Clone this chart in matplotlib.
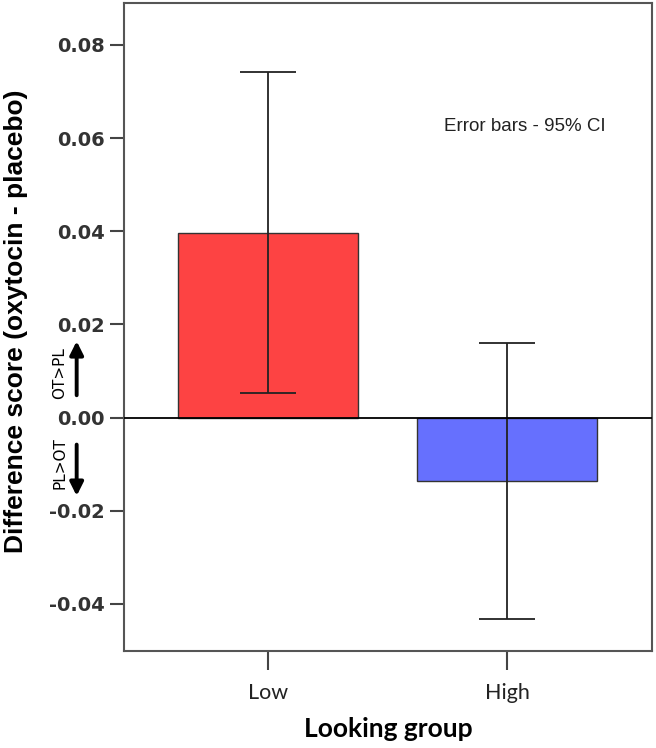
import matplotlib
matplotlib.use('Agg')
import matplotlib.pyplot as plt
import numpy as np

# data
groups = ['Low', 'High']
diff_mean = [0.0396, -0.0136]
ci_low = [0.0052, -0.0432]
ci_high = [0.0742, 0.0161]
bar_colors = ['#FD4343', '#6670FE']
yticks = [-0.04, -0.02, 0.00, 0.02, 0.04, 0.06, 0.08]

fig = plt.figure(figsize=(6.56, 7.48), dpi=100)
ax = fig.add_axes([0.189, 0.1297, 0.805, 0.8663])

x = np.arange(len(groups))
yerr = np.array([[m - lo for m, lo in zip(diff_mean, ci_low)],
                 [hi - m for m, hi in zip(diff_mean, ci_high)]])

ax.bar(x, diff_mean, width=0.75, color=bar_colors, edgecolor='#333333', linewidth=1.0, zorder=2)
ax.errorbar(x, diff_mean, yerr=yerr, fmt='none', ecolor='#222222', elinewidth=1.3,
            capsize=20, capthick=1.3, zorder=3)
ax.axhline(0, color='black', linewidth=1.3, zorder=4)

ax.set_xlim(-0.603, 1.607)
ax.set_ylim(-0.0501, 0.0890)

ax.set_yticks(yticks)
ax.set_yticklabels(['%.2f' % v for v in yticks], fontsize=14, color='#333333',
                   family='DejaVu Sans', fontweight='bold')
ax.set_xticks(x)
ax.set_xticklabels(groups, fontsize=15.5, family='Lato', color='#222222')
ax.tick_params(axis='y', length=10, width=1.5, color='#444444', pad=4)
ax.tick_params(axis='x', length=14, width=1.5, color='#444444', pad=9)

for s in ax.spines.values():
    s.set_linewidth(1.5)
    s.set_color('#555555')

fig.text(16 / 656, 1 - 321 / 748, 'Difference score (oxytocin - placebo)', rotation=90,
         ha='center', va='center', fontsize=19, fontweight='bold', family='Liberation Sans')
ax.set_xlabel('Looking group', fontsize=19, fontweight='bold', family='Lato', labelpad=10)

ax.text(0.759, 0.81, 'Error bars - 95% CI', transform=ax.transAxes, ha='center', va='center',
        fontsize=13.5, family='Liberation Sans', color='#222222')

# direction arrows beside the zero line
tr = ax.get_yaxis_transform()
ax.annotate('', xy=(-0.0896, 0.0170), xytext=(-0.0896, 0.0042), xycoords=tr, textcoords=tr,
            arrowprops=dict(arrowstyle='-|>', color='black', lw=2.8, mutation_scale=20),
            annotation_clip=False)
ax.annotate('', xy=(-0.0896, -0.0174), xytext=(-0.0896, -0.0052), xycoords=tr, textcoords=tr,
            arrowprops=dict(arrowstyle='-|>', color='black', lw=2.8, mutation_scale=20),
            annotation_clip=False)
ax.text(-0.121, 0.0095, 'OT>PL', transform=tr, rotation=90, ha='center', va='center',
        fontsize=11, family='DejaVu Sans', clip_on=False)
ax.text(-0.121, -0.0098, 'PL>OT', transform=tr, rotation=90, ha='center', va='center',
        fontsize=11, family='DejaVu Sans', clip_on=False)

fig.savefig('out.png', dpi=100)
